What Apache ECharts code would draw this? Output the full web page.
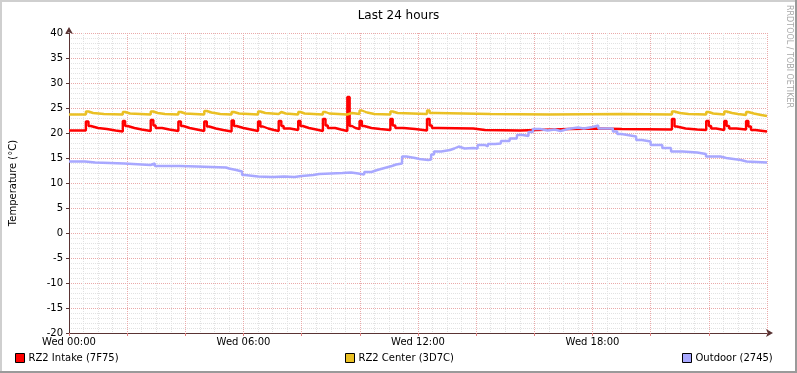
<!DOCTYPE html>
<html>
<head>
<meta charset="utf-8">
<script src="https://cdn.jsdelivr.net/npm/echarts@6/dist/echarts.min.js"></script>
<style>
  html, body { margin: 0; padding: 0; background: #fff; }
  #chart-container { width: 797px; height: 373px; }
</style>
</head>
<body>
<div id="chart-container"></div>
<script>
// data: [hour, °C], each value holds until the next point (rrd step)
var intake = [
  [0, 20.5],
  [0.58, 22.3], [0.67, 21.4], [0.75, 21.0], [1.0, 20.8], [1.3, 20.5], [1.6, 20.3],
  [1.85, 22.4], [1.93, 21.4], [2.02, 21.0], [2.25, 20.7], [2.5, 20.4],
  [2.81, 22.6], [2.9, 21.5], [2.98, 21.0], [3.2, 20.7], [3.45, 20.4],
  [3.76, 22.3], [3.85, 21.4], [3.93, 21.0], [4.15, 20.7], [4.4, 20.4],
  [4.65, 22.3], [4.74, 21.3], [4.82, 20.9], [5.05, 20.6], [5.3, 20.3],
  [5.59, 22.5], [5.67, 21.4], [5.76, 21.0], [6.0, 20.7], [6.25, 20.4],
  [6.5, 22.3], [6.58, 21.3], [6.67, 20.9], [6.85, 20.6], [7.05, 20.4],
  [7.21, 22.4], [7.3, 21.4], [7.38, 20.9], [7.6, 20.6],
  [7.88, 22.4], [7.96, 21.4], [8.04, 21.0], [8.25, 20.7], [8.5, 20.4],
  [8.73, 22.8], [8.82, 21.5], [8.9, 21.0], [9.15, 20.7], [9.35, 20.4],
  [9.57, 27.2], [9.65, 21.4], [9.73, 21.0], [9.85, 20.8],
  [9.99, 22.4], [10.07, 21.4], [10.15, 21.0], [10.4, 20.8], [10.7, 20.6],
  [11.05, 22.8], [11.13, 21.5], [11.22, 21.0], [11.5, 20.8], [11.9, 20.5],
  [12.31, 22.8], [12.4, 21.5], [12.48, 21.0], [12.7, 20.9], [13.9, 20.6],
  [14.3, 20.5], [15.5, 20.8], [17.2, 20.9], [18.2, 20.8], [19.0, 20.7],
  [20.73, 22.8], [20.82, 21.3], [20.9, 20.9], [21.2, 20.7], [21.6, 20.6],
  [21.91, 22.4], [22.0, 21.4], [22.08, 20.9], [22.25, 20.6],
  [22.53, 22.4], [22.61, 21.4], [22.7, 20.9], [22.95, 20.7],
  [23.28, 22.4], [23.36, 21.3], [23.45, 20.6], [23.6, 20.3], [24, 20.3]
];

var center = [
  [0, 23.7], [0.58, 24.3], [0.67, 24.0], [0.83, 23.8], [1.2, 23.7],
  [1.85, 24.2], [1.93, 23.9], [2.1, 23.7],
  [2.81, 24.3], [2.9, 24.0], [3.05, 23.8], [3.3, 23.7],
  [3.76, 24.2], [3.85, 23.9], [4.0, 23.7],
  [4.65, 24.4], [4.74, 24.1], [4.9, 23.8], [5.2, 23.7],
  [5.59, 24.2], [5.67, 23.9], [5.85, 23.7],
  [6.5, 24.3], [6.58, 24.0], [6.75, 23.8],
  [7.21, 24.2], [7.3, 23.9], [7.45, 23.7],
  [7.88, 24.2], [7.96, 23.9], [8.1, 23.7],
  [8.73, 24.2], [8.82, 23.9], [8.95, 23.7],
  [9.57, 24.0], [9.73, 23.8],
  [9.99, 24.5], [10.07, 24.1], [10.25, 23.8], [10.5, 23.7],
  [11.05, 24.3], [11.13, 24.0], [11.3, 23.8],
  [12.31, 24.5], [12.4, 24.0], [12.6, 23.8], [14.5, 23.7], [16.5, 23.8], [19.0, 23.7],
  [20.73, 24.3], [20.82, 24.0], [21.0, 23.8], [21.3, 23.7],
  [21.91, 24.2], [22.0, 23.9], [22.15, 23.7],
  [22.53, 24.3], [22.61, 24.0], [22.8, 23.8], [23.0, 23.6],
  [23.28, 24.2], [23.36, 23.9], [23.55, 23.6], [23.8, 23.4], [24, 23.4]
];

var outdoor = [
  [0, 14.3], [0.55, 14.1], [0.9, 13.9], [1.9, 13.6], [2.8, 13.9], [2.95, 13.4],
  [3.8, 13.3], [4.4, 13.1], [5.4, 12.9], [5.5, 12.6], [5.75, 12.3], [5.95, 11.6],
  [6.05, 11.3], [6.5, 11.2], [7.0, 11.3], [7.4, 11.2], [7.75, 11.4], [8.0, 11.6],
  [8.4, 11.8], [8.6, 11.9], [9.0, 12.0], [9.4, 12.1], [9.7, 11.9], [9.95, 11.7],
  [10.15, 12.2], [10.4, 12.6], [10.6, 13.0], [10.85, 13.4], [11.1, 13.7], [11.25, 13.9],
  [11.45, 15.3], [11.6, 15.0], [11.9, 14.8], [12.05, 14.6], [12.35, 14.7], [12.45, 15.7],
  [12.55, 16.3], [12.8, 16.6], [13.1, 16.9], [13.25, 17.3], [13.4, 16.9], [13.6, 17.0],
  [13.9, 16.9], [14.05, 17.6], [14.3, 17.3], [14.4, 17.8], [14.65, 17.9], [14.85, 18.4],
  [15.15, 18.9], [15.4, 19.6], [15.6, 19.4], [15.8, 20.2], [15.95, 20.8], [16.2, 20.5],
  [16.45, 20.7], [16.7, 20.4], [16.9, 20.8], [17.15, 21.1], [17.5, 20.9], [17.7, 21.2],
  [18.0, 21.5], [18.2, 20.9], [18.5, 20.9], [18.7, 20.3], [18.85, 19.8], [19.0, 19.6],
  [19.2, 19.3], [19.5, 18.6], [19.7, 18.3], [20.0, 17.6], [20.4, 17.0], [20.7, 16.3],
  [21.1, 16.1], [21.6, 15.8], [21.9, 15.3], [22.4, 15.0], [22.6, 14.6], [23.1, 14.3],
  [23.3, 14.1], [24, 14.1]
];

var seriesNames = ['RZ2 Intake (7F75)', 'RZ2 Center (3D7C)', 'Outdoor (2745)'];
var seriesColors = ['#ff0000', '#eac024', '#a8a8ff'];
var labelHours = [0, 6, 12, 18];
var labelTexts = ['Wed 00:00', 'Wed 06:00', 'Wed 12:00', 'Wed 18:00'];

var font = 'DejaVu Sans';
var dom = document.getElementById('chart-container');
var myChart = echarts.init(dom, null, { renderer: 'canvas' });

function mkSeries(i, data) {
  return {
    name: seriesNames[i],
    type: 'line',
    step: 'end',
    data: data,
    showSymbol: false,
    symbol: 'none',
    color: seriesColors[i],
    lineStyle: { width: 2.4, color: seriesColors[i] },
    animation: false
  };
}

function mkLegend(i, left) {
  return {
    data: [seriesNames[i]],
    left: left,
    top: 353,
    padding: 0,
    icon: 'rect',
    itemWidth: 9,
    itemHeight: 9,
    itemGap: 0,
    itemStyle: { borderColor: '#000', borderWidth: 1 },
    textStyle: { fontFamily: font, fontSize: 10, color: '#000', padding: [0, 0, 0, -1] },
    selectedMode: false
  };
}

var option = {
  animation: false,
  backgroundColor: '#fff',
  title: {
    text: 'Last 24 hours',
    left: 'center',
    top: 5,
    textStyle: { fontFamily: font, fontSize: 12, fontWeight: 'normal', color: '#000' }
  },
  legend: [mkLegend(0, 15), mkLegend(1, 345), mkLegend(2, 682)],
  grid: { left: 67, right: 30, top: 33, bottom: 40 },
  xAxis: {
    type: 'value',
    min: 0,
    max: 24,
    interval: 2,
    axisLine: {
      onZero: false,
      lineStyle: { color: '#5a3434', width: 1 },
      symbol: ['none', 'arrow'],
      symbolSize: [6, 7],
      symbolOffset: [0, 6]
    },
    axisTick: { show: true, length: 3, lineStyle: { color: '#e08080' } },
    axisLabel: {
      margin: 4,
      fontFamily: font,
      fontSize: 10,
      color: '#000',
      formatter: function (v) {
        var k = labelHours.indexOf(v);
        return k >= 0 ? labelTexts[k] : '';
      }
    },
    splitLine: { show: true, lineStyle: { color: '#eaaaaa', type: [1, 1] } },
    minorTick: { show: true, splitNumber: 4, length: 0 },
    minorSplitLine: { show: true, lineStyle: { color: '#e2e2e2', type: [1, 1] } }
  },
  yAxis: {
    type: 'value',
    min: -20,
    max: 40,
    interval: 5,
    name: 'Temperature (°C)',
    nameLocation: 'middle',
    nameGap: 51,
    nameRotate: 90,
    nameTextStyle: { fontFamily: font, fontSize: 10, color: '#000' },
    axisLine: {
      show: true,
      onZero: false,
      lineStyle: { color: '#5a3434', width: 1 },
      symbol: ['none', 'arrow'],
      symbolSize: [6, 7],
      symbolOffset: [0, 6]
    },
    axisTick: { show: true, length: 3, lineStyle: { color: '#5a3434' } },
    axisLabel: { margin: 6, fontFamily: font, fontSize: 10, color: '#000' },
    splitLine: { show: true, lineStyle: { color: '#eaaaaa', type: [1, 1] } },
    minorTick: { show: true, splitNumber: 5, length: 0 },
    minorSplitLine: { show: true, lineStyle: { color: '#e2e2e2', type: [1, 1] } }
  },
  graphic: [
    { type: 'rect', shape: { x: 0, y: 0, width: 797, height: 2 }, style: { fill: '#cfcfcf' }, silent: true },
    { type: 'rect', shape: { x: 0, y: 0, width: 2, height: 373 }, style: { fill: '#cfcfcf' }, silent: true },
    { type: 'rect', shape: { x: 0, y: 371, width: 797, height: 2 }, style: { fill: '#9a9a9a' }, silent: true },
    { type: 'rect', shape: { x: 795, y: 0, width: 2, height: 373 }, style: { fill: '#9a9a9a' }, silent: true },
    {
      type: 'text',
      x: 793,
      y: 5,
      rotation: -Math.PI / 2,
      silent: true,
      style: {
        text: 'RRDTOOL / TOBI OETIKER',
        fill: '#a8a8a8',
        font: '8px "DejaVu Sans"',
        textVerticalAlign: 'top',
        verticalAlign: 'top'
      }
    }
  ],
  series: [mkSeries(0, intake), mkSeries(1, center), mkSeries(2, outdoor)]
};

myChart.setOption(option);
window.addEventListener('resize', myChart.resize);
</script>
</body>
</html>
